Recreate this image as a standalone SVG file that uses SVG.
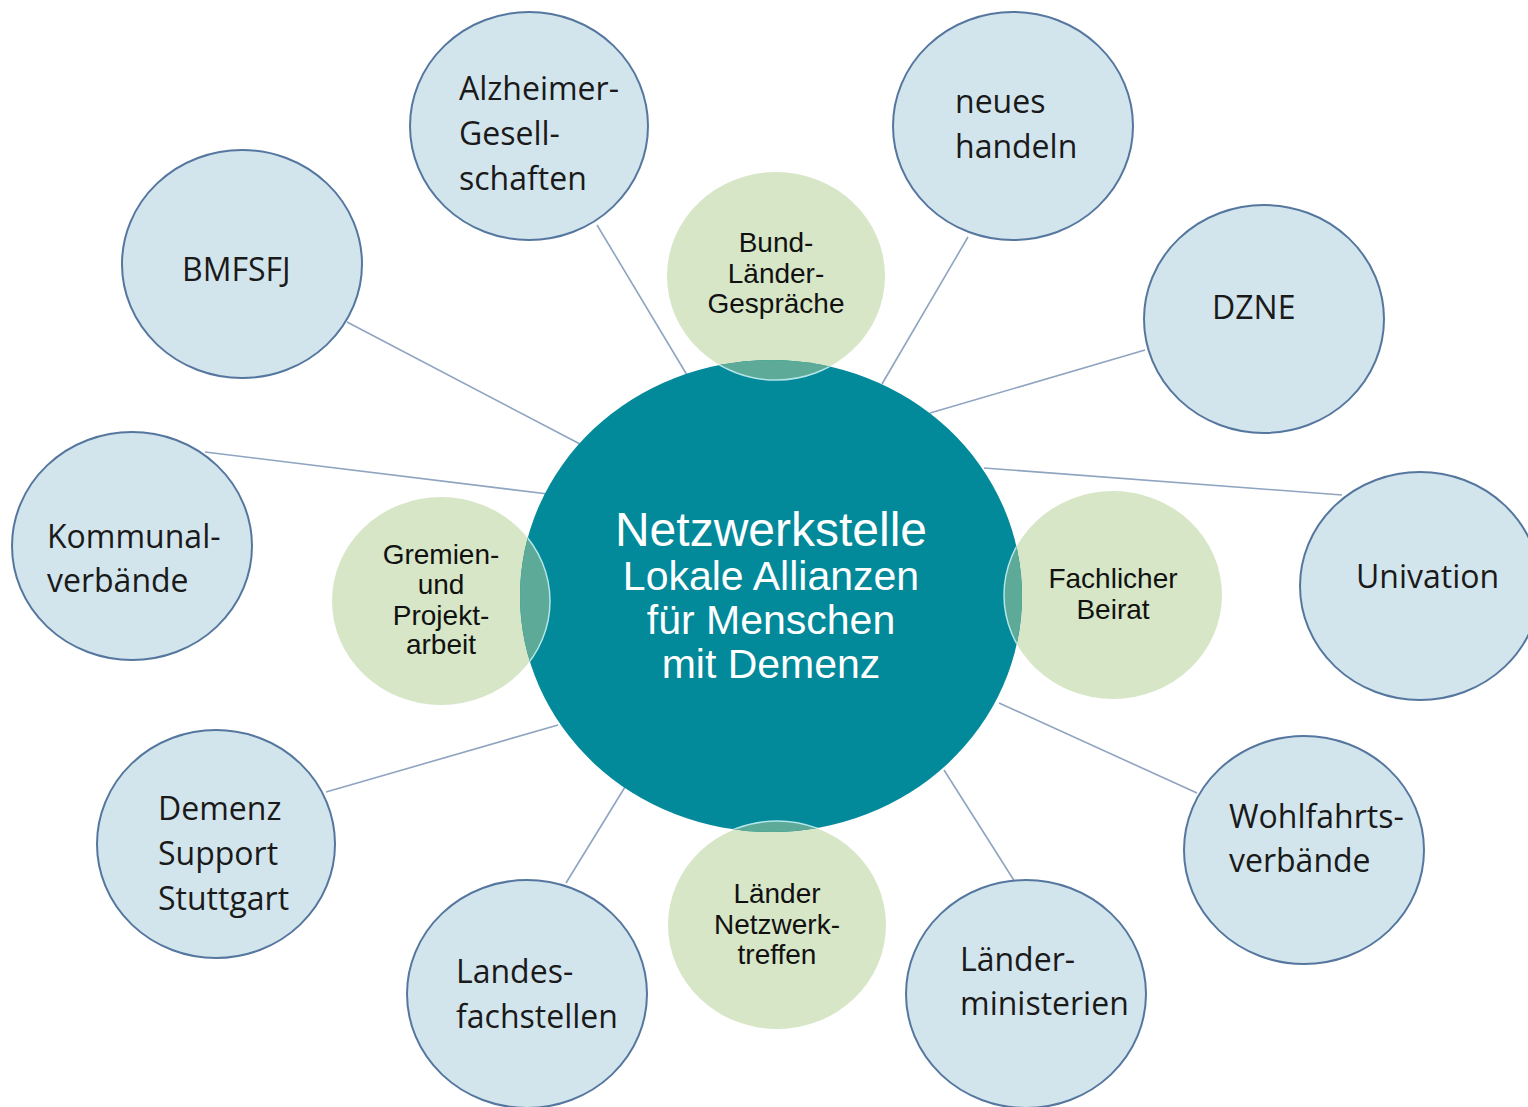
<svg xmlns="http://www.w3.org/2000/svg" width="1528" height="1107" viewBox="0 0 1528 1107">
<style>
.outer{fill:#D3E5EC;stroke:#55779F;stroke-width:2}
.green{fill:#D6E6C6}
.ovl{fill:#5CAA97;stroke:#B4E6E8;stroke-width:1.5}
.lbl{font-family:"Open Sans","Liberation Sans",sans-serif;font-size:32px;fill:#1a1a1a}
.glbl{font-family:"Liberation Sans",Arial,sans-serif;font-size:28px;fill:#111;text-anchor:middle}
.ctr{font-family:"Liberation Sans",Arial,sans-serif;fill:#fff;text-anchor:middle}
.conn line{stroke:#8FA4C0;stroke-width:1.6}
</style>
<defs>
<clipPath id="cc"><ellipse cx="771" cy="596" rx="251" ry="236"/></clipPath>
</defs>
<rect width="1528" height="1107" fill="#fff"/>
<g id="connectors" class="conn">
<line x1="597" y1="225" x2="690" y2="380"/>
<line x1="968" y1="237" x2="882" y2="384"/>
<line x1="347" y1="322" x2="580" y2="444"/>
<line x1="1145" y1="350" x2="930" y2="413"/>
<line x1="205" y1="452" x2="548" y2="494"/>
<line x1="1342" y1="495" x2="984" y2="468"/>
<line x1="326" y1="792" x2="558" y2="725"/>
<line x1="1197" y1="793" x2="999" y2="703"/>
<line x1="566" y1="883" x2="625" y2="787"/>
<line x1="1015" y1="882" x2="944" y2="770"/>
</g>
<g id="n-alzheimer"><ellipse class="outer" cx="529" cy="126" rx="119" ry="114"/>
<text class="lbl"><tspan x="459" y="100">Alzheimer-</tspan><tspan x="459" y="145">Gesell-</tspan><tspan x="459" y="190">schaften</tspan></text></g>
<g id="n-neues"><ellipse class="outer" cx="1013" cy="126" rx="120" ry="114"/>
<text class="lbl"><tspan x="955" y="113">neues</tspan><tspan x="955" y="158">handeln</tspan></text></g>
<g id="n-bmfsfj"><ellipse class="outer" cx="242" cy="264" rx="120" ry="114"/>
<text class="lbl" x="182" y="281">BMFSFJ</text></g>
<g id="n-dzne"><ellipse class="outer" cx="1264" cy="319" rx="120" ry="114"/>
<text class="lbl" x="1212" y="319">DZNE</text></g>
<g id="n-kommunal"><ellipse class="outer" cx="132" cy="546" rx="120" ry="114"/>
<text class="lbl"><tspan x="47" y="548">Kommunal-</tspan><tspan x="47" y="592">verbände</tspan></text></g>
<g id="n-univation"><ellipse class="outer" cx="1420" cy="586" rx="120" ry="114"/>
<text class="lbl" x="1356" y="588">Univation</text></g>
<g id="n-demenz"><ellipse class="outer" cx="216" cy="844" rx="119" ry="114"/>
<text class="lbl"><tspan x="158" y="820">Demenz</tspan><tspan x="158" y="865">Support</tspan><tspan x="158" y="910">Stuttgart</tspan></text></g>
<g id="n-wohlfahrt"><ellipse class="outer" cx="1304" cy="850" rx="120" ry="114"/>
<text class="lbl"><tspan x="1229" y="828">Wohlfahrts-</tspan><tspan x="1229" y="872">verbände</tspan></text></g>
<g id="n-landes"><ellipse class="outer" cx="527" cy="994" rx="120" ry="114"/>
<text class="lbl"><tspan x="456" y="983">Landes-</tspan><tspan x="456" y="1028">fachstellen</tspan></text></g>
<g id="n-laenderministerien"><ellipse class="outer" cx="1026" cy="994" rx="120" ry="114"/>
<text class="lbl"><tspan x="960" y="971">Länder-</tspan><tspan x="960" y="1015">ministerien</tspan></text></g>
<g id="n-bund"><ellipse class="green" cx="776" cy="276" rx="109" ry="104"/></g>
<g id="n-gremien"><ellipse class="green" cx="441" cy="601" rx="109" ry="104"/></g>
<g id="n-beirat"><ellipse class="green" cx="1113" cy="595" rx="109" ry="104"/></g>
<g id="n-treffen"><ellipse class="green" cx="777" cy="925" rx="109" ry="104"/></g>
<g id="n-center"><ellipse cx="771" cy="596" rx="251" ry="236" fill="#02899A"/>
<g clip-path="url(#cc)">
<ellipse class="ovl" cx="776" cy="276" rx="109" ry="104"/>
<ellipse class="ovl" cx="441" cy="601" rx="109" ry="104"/>
<ellipse class="ovl" cx="1113" cy="595" rx="109" ry="104"/>
<ellipse class="ovl" cx="777" cy="925" rx="109" ry="104"/>
</g>
<text class="ctr" x="771" y="546" font-size="48">Netzwerkstelle</text>
<text class="ctr" font-size="41"><tspan x="771" y="590">Lokale Allianzen</tspan><tspan x="771" y="634">für Menschen</tspan><tspan x="771" y="678">mit Demenz</tspan></text>
</g>
<text class="glbl"><tspan x="776" y="252">Bund-</tspan><tspan x="776" y="283">Länder-</tspan><tspan x="776" y="313">Gespräche</tspan></text>
<text class="glbl"><tspan x="441" y="564">Gremien-</tspan><tspan x="441" y="594">und</tspan><tspan x="441" y="625">Projekt-</tspan><tspan x="441" y="654">arbeit</tspan></text>
<text class="glbl"><tspan x="1113" y="588">Fachlicher</tspan><tspan x="1113" y="619">Beirat</tspan></text>
<text class="glbl"><tspan x="777" y="903">Länder</tspan><tspan x="777" y="934">Netzwerk-</tspan><tspan x="777" y="964">treffen</tspan></text>
</svg>
